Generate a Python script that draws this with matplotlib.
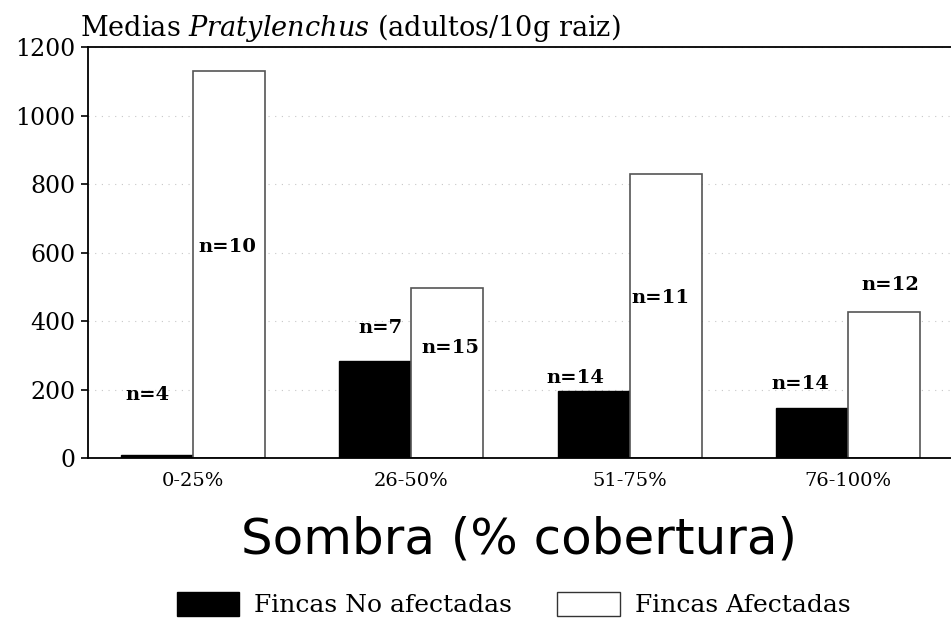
import numpy as np
import matplotlib
matplotlib.use('Agg')
import matplotlib.pyplot as plt
from matplotlib.patches import Patch

categories = ['0-25%', '26-50%', '51-75%', '76-100%']
no_afectadas = [10, 283, 196, 146]
afectadas = [1130, 496, 829, 426]
n_no_afectadas = [4, 7, 14, 14]
n_afectadas = [10, 15, 11, 12]

# label offsets (x shift from group centre, y in data units)
lab_no = [(-0.21, 184), (-0.14, 380), (-0.25, 234), (-0.22, 216)]
lab_af = [(0.16, 616), (0.18, 321), (0.14, 467), (0.19, 505)]

plt.rcParams['font.family'] = 'DejaVu Serif'
plt.rcParams['mathtext.fontset'] = 'dejavuserif'

fig = plt.figure(figsize=(9.51, 6.20), dpi=100)
ax = fig.add_axes([0.0925, 0.261, 0.9075, 0.663])

x = np.arange(len(categories))
w = 0.33
ax.bar(x - w / 2, no_afectadas, w, color='black', edgecolor='black', linewidth=1)
ax.bar(x + w / 2, afectadas, w, color='white', edgecolor='#555555', linewidth=1.2)

for i in range(len(categories)):
    ax.text(x[i] + lab_no[i][0], lab_no[i][1], f'n={n_no_afectadas[i]}',
            ha='center', va='center', fontsize=14, fontweight='bold')
    ax.text(x[i] + lab_af[i][0], lab_af[i][1], f'n={n_afectadas[i]}',
            ha='center', va='center', fontsize=14, fontweight='bold')

ax.set_xlim(-0.48, 3.47)
ax.set_ylim(0, 1200)
ax.set_yticks(range(0, 1201, 200))
ax.set_xticks(x)
ax.set_xticklabels(categories, fontsize=14)
ax.tick_params(axis='y', labelsize=17, length=5, width=1.2, direction='out', pad=4)
ax.tick_params(axis='x', length=0, pad=10)
ax.yaxis.grid(True, linestyle=(0, (1, 5)), color='#c8c8c8', linewidth=0.8)
ax.set_axisbelow(True)

ax.spines['right'].set_visible(False)
for s in ['left', 'top', 'bottom']:
    ax.spines[s].set_linewidth(1.3)

ax.set_xlabel('Sombra (% cobertura)', family='DejaVu Sans', fontsize=36, labelpad=18)
fig.text(0.084, 0.955, r'Medias $\it{Pratylenchus}$ (adultos/10g raiz)', fontsize=19.5,
         ha='left', va='center')

handles = [Patch(facecolor='black', edgecolor='black'),
           Patch(facecolor='white', edgecolor='#333333')]
fig.legend(handles, ['Fincas No afectadas', 'Fincas Afectadas'], loc='center',
           bbox_to_anchor=(0.54, 0.025), ncol=2, frameon=False, fontsize=18,
           handlelength=2.5, handleheight=1.1, handletextpad=0.6, columnspacing=1.8)

fig.savefig('out.png', dpi=100)
